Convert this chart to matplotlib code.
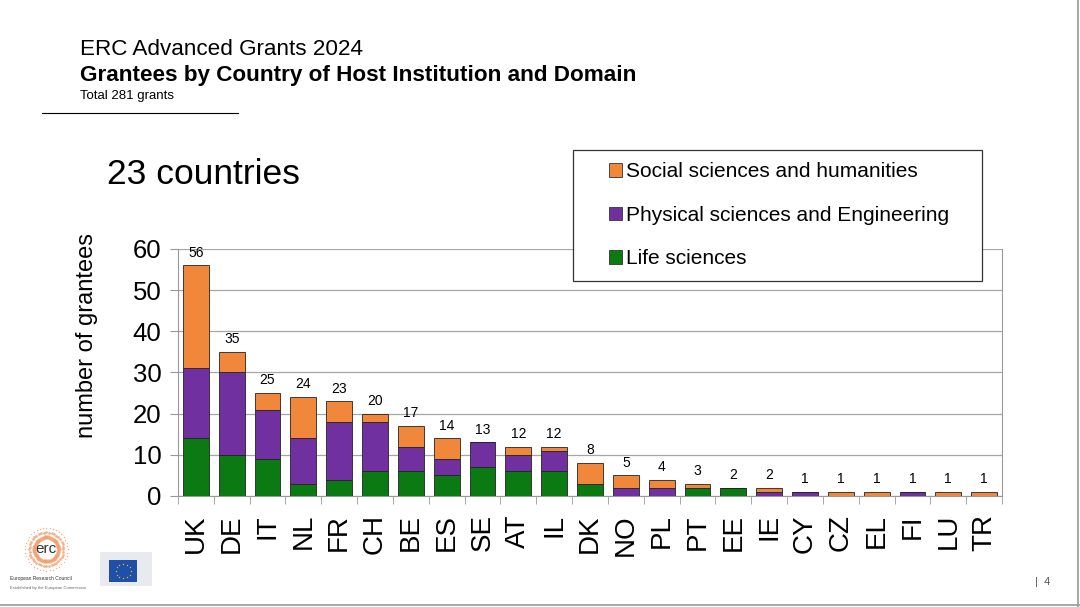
import numpy as np
import matplotlib
matplotlib.use('Agg')
import matplotlib.pyplot as plt
from matplotlib.patches import Patch, Rectangle
from matplotlib.lines import Line2D

plt.rcParams['font.family'] = ['Liberation Sans', 'DejaVu Sans']

countries = ['UK', 'DE', 'IT', 'NL', 'FR', 'CH', 'BE', 'ES', 'SE', 'AT', 'IL', 'DK',
             'NO', 'PL', 'PT', 'EE', 'IE', 'CY', 'CZ', 'EL', 'FI', 'LU', 'TR']
life = [14, 10, 9, 3, 4, 6, 6, 5, 7, 6, 6, 3, 0, 0, 2, 2, 0, 0, 0, 0, 0, 0, 0]
physical = [17, 20, 12, 11, 14, 12, 6, 4, 6, 4, 5, 0, 2, 2, 0, 0, 1, 1, 0, 0, 1, 0, 0]
social = [25, 5, 4, 10, 5, 2, 5, 5, 0, 2, 1, 5, 3, 2, 1, 0, 1, 0, 1, 1, 0, 1, 1]

c_life = '#0b7a12'
c_phys = '#7030a0'
c_soc = '#f0873a'


def main():
    fig = plt.figure(figsize=(10.8, 6.07), dpi=100)
    ax = fig.add_axes([0.1648, 0.1829, 0.763, 0.4069])

    x = np.arange(len(countries))
    life_a = np.array(life)
    phys_a = np.array(physical)
    soc_a = np.array(social)
    totals = life_a + phys_a + soc_a

    bw = 0.72
    ax.bar(x, life_a, bw, color=c_life, edgecolor='#222222', linewidth=0.6, zorder=3)
    ax.bar(x, phys_a, bw, bottom=life_a, color=c_phys, edgecolor='#222222',
           linewidth=0.6, zorder=3)
    ax.bar(x, soc_a, bw, bottom=life_a + phys_a, color=c_soc, edgecolor='#222222',
           linewidth=0.6, zorder=3)
    for xi, t in zip(x, totals):
        ax.text(xi, t + 1.4, str(t), ha='center', va='bottom', fontsize=10)

    ax.set_xlim(-0.5, len(countries) - 0.5)
    ax.set_ylim(0, 60)
    ax.set_yticks(range(0, 61, 10))
    ax.tick_params(axis='y', labelsize=18.5, length=6, color='#999999', pad=6)
    ax.set_xticks(x)
    ax.set_xticklabels(countries, rotation=90, fontsize=20)
    ax.tick_params(axis='x', length=0, pad=13)
    ax.set_xticks(np.arange(-0.5, len(countries), 1), minor=True)
    ax.tick_params(axis='x', which='minor', length=6, color='#999999')
    ax.grid(axis='y', color='#a6a6a6', linewidth=0.9, zorder=0)
    for s in ax.spines.values():
        s.set_color('#999999')
    ax.spines['top'].set_visible(False)
    fig.text(0.0806, 0.447, 'number of grantees', fontsize=17, rotation=90,
             ha='center', va='center')

    # titles
    fig.text(0.074, 0.918, 'ERC Advanced Grants 2024', fontsize=16.2, va='center')
    fig.text(0.074, 0.875, 'Grantees by Country of Host Institution and Domain',
             fontsize=16.2, fontweight='bold', va='center')
    fig.text(0.074, 0.842, 'Total 281 grants', fontsize=9.5, va='center')
    fig.add_artist(Line2D([0.039, 0.220], [0.814, 0.814], color='black', linewidth=0.8))
    fig.text(0.099, 0.712, '23 countries', fontsize=25.5, va='center')

    # legend box
    fig.add_artist(Rectangle((0.5306, 0.537), 0.3787, 0.216, transform=fig.transFigure,
                             facecolor='white', edgecolor='#333333', linewidth=0.9,
                             zorder=5))
    handles = [Patch(facecolor=c_soc, edgecolor='#333333', linewidth=0.6),
               Patch(facecolor=c_phys, edgecolor='#333333', linewidth=0.6),
               Patch(facecolor=c_life, edgecolor='#333333', linewidth=0.6)]
    labels = ['Social sciences and humanities', 'Physical sciences and Engineering',
              'Life sciences']
    leg = fig.legend(handles, labels, loc='upper left', bbox_to_anchor=(0.554, 0.7496),
                     frameon=False, fontsize=15, handlelength=0.62, handleheight=0.62,
                     handletextpad=0.2, labelspacing=1.17, borderpad=0)
    leg.set_zorder(6)

    # slide decorations
    fig.add_artist(Line2D([0.998, 0.998], [0.0, 1.0], color='#9a9a9a', linewidth=1.2))
    fig.add_artist(Line2D([0.0, 1.0], [0.004, 0.004], color='#9a9a9a', linewidth=1.2))
    fig.text(0.958, 0.041, '|  4', fontsize=8, color='#555555', va='center')

    # erc logo approximation
    ang = np.linspace(0, 2 * np.pi, 40, endpoint=False)
    lx, ly = 0.043, 0.095
    for r, sz in [(0.020, 3), (0.028, 2), (0.035, 1)]:
        xs = lx + r * np.cos(ang) * 0.562
        ys = ly + r * np.sin(ang)
        for xx, yy in zip(xs, ys):
            fig.add_artist(Line2D([xx], [yy], marker='o', markersize=sz, color='#f0a070',
                                  markeredgewidth=0, alpha=0.8))
    fig.text(lx, ly, 'erc', fontsize=11, ha='center', va='center', color='#333333')
    fig.text(0.009, 0.044, 'European Research Council', fontsize=3.5, color='#333333')
    fig.text(0.009, 0.030, 'Established by the European Commission', fontsize=3,
             color='#666666')
    fig.add_artist(Rectangle((0.093, 0.035), 0.048, 0.055, transform=fig.transFigure,
                             facecolor='#e8eaf0', edgecolor='none'))
    fig.add_artist(Rectangle((0.101, 0.042), 0.026, 0.035, transform=fig.transFigure,
                             facecolor='#1f4fa8', edgecolor='none'))
    sa = np.linspace(0, 2 * np.pi, 12, endpoint=False)
    for xx, yy in zip(0.114 + 0.007 * np.cos(sa), 0.0595 + 0.012 * np.sin(sa)):
        fig.add_artist(Line2D([xx], [yy], marker='*', markersize=1.5, color='#ffd700',
                              markeredgewidth=0))

    fig.savefig('out.png', dpi=100, facecolor='white')


if __name__ == '__main__':
    main()
